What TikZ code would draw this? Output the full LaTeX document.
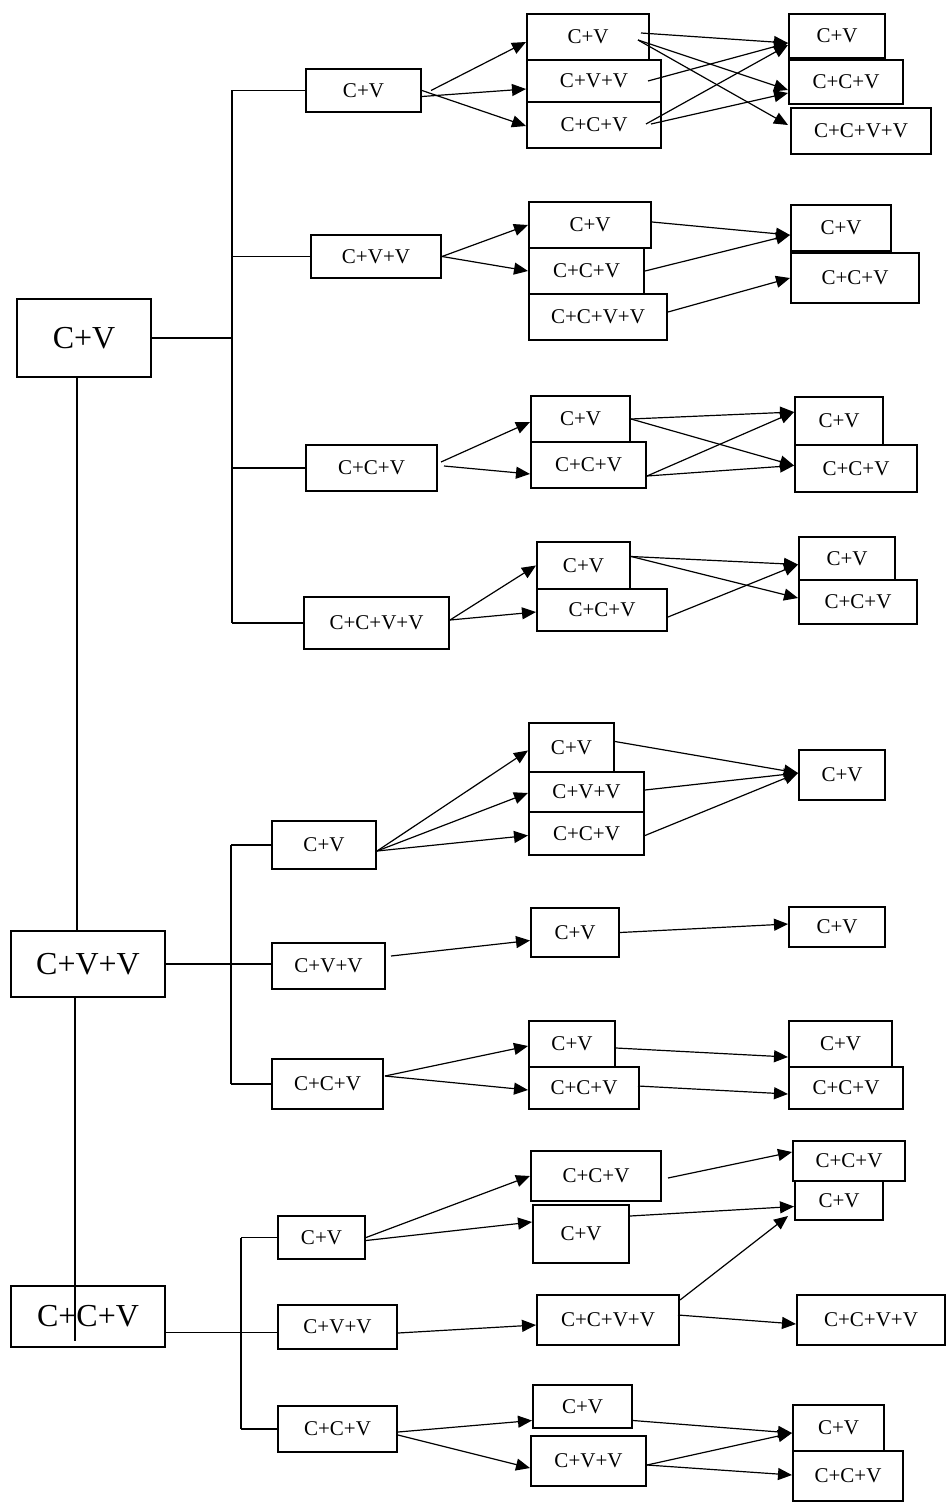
\documentclass[tikz,border=0pt]{standalone}
\usepackage{fontspec}
\setmainfont{Liberation Serif}
\usetikzlibrary{arrows.meta,calc}

\begin{document}
\begin{tikzpicture}[
  x=0.5pt, y=-0.5pt,
  font=\fontsize{10.5}{12}\selectfont,
  bx/.style={draw, line width=1pt, fill=white, inner sep=1pt},
  rt/.style={bx, font=\fontsize{16}{19}\selectfont},
  sz/.style 2 args={minimum width=#1*0.5pt, minimum height=#2*0.5pt},
  arr/.style={-{Triangle[length=7pt,width=6pt]}, line width=0.6pt},
  ln/.style={line width=0.6pt}
]
\useasboundingbox (0,0) rectangle (947,1504);
% roots
\node[rt, sz={134}{78}] (R1) at (84,338) {C+V};
\node[rt, sz={154}{66}] (R2) at (88,964) {C+V+V};
\node[rt, sz={154}{61}] (R3) at (88,1316.5) {C+C+V};
% Branch A: C+V
\node[bx, sz={115}{43}] (A1) at (363.5,90.5) {C+V};
\node[bx, sz={130}{43}] (A2) at (376,256.5) {C+V+V};
\node[bx, sz={131}{46}] (A3) at (371.5,468) {C+C+V};
\node[bx, sz={145}{52}] (A4) at (376.5,623) {C+C+V+V};
\node[bx, sz={122}{46}] (B11) at (588,37) {C+V};
\node[bx, sz={134}{42}] (B12) at (594,81) {C+V+V};
\node[bx, sz={134}{46}] (B13) at (594,125) {C+C+V};
\node[bx, sz={96}{44}] (C11) at (837,36) {C+V};
\node[bx, sz={114}{44}] (C12) at (846,82) {C+C+V};
\node[bx, sz={140}{46}] (C13) at (861,131) {C+C+V+V};
\node[bx, sz={122}{46}] (B21) at (590,225) {C+V};
\node[bx, sz={115}{46}] (B22) at (586.5,271) {C+C+V};
\node[bx, sz={138}{46}] (B23) at (598,317) {C+C+V+V};
\node[bx, sz={100}{46}] (C21) at (841,228) {C+V};
\node[bx, sz={128}{50}] (C22) at (855,278) {C+C+V};
\node[bx, sz={99}{46}] (B31) at (580.5,419) {C+V};
\node[bx, sz={115}{46}] (B32) at (588.5,465) {C+C+V};
\node[bx, sz={88}{48}] (C31) at (839,421) {C+V};
\node[bx, sz={122}{47}] (C32) at (856,468.5) {C+C+V};
\node[bx, sz={93}{47}] (B41) at (583.5,565.5) {C+V};
\node[bx, sz={130}{42}] (B42) at (602,610) {C+C+V};
\node[bx, sz={96}{43}] (C41) at (847,558.5) {C+V};
\node[bx, sz={118}{44}] (C42) at (858,602) {C+C+V};
% Branch B: C+V+V
\node[bx, sz={104}{48}] (D1) at (324,845) {C+V};
\node[bx, sz={113}{46}] (D2) at (328.5,966) {C+V+V};
\node[bx, sz={111}{50}] (D3) at (327.5,1084) {C+C+V};
\node[bx, sz={85}{49}] (E11) at (571.5,747.5) {C+V};
\node[bx, sz={115}{40}] (E12) at (586.5,792) {C+V+V};
\node[bx, sz={115}{43}] (E13) at (586.5,833.5) {C+C+V};
\node[bx, sz={86}{50}] (F1) at (842,775) {C+V};
\node[bx, sz={88}{49}] (E21) at (575,932.5) {C+V};
\node[bx, sz={96}{40}] (F2) at (837,927) {C+V};
\node[bx, sz={86}{46}] (E31) at (572,1044) {C+V};
\node[bx, sz={110}{42}] (E32) at (584,1088) {C+C+V};
\node[bx, sz={103}{46}] (F31) at (840.5,1044) {C+V};
\node[bx, sz={114}{42}] (F32) at (846,1088) {C+C+V};
% Branch C: C+C+V
\node[bx, sz={87}{43}] (G1) at (321.5,1237.5) {C+V};
\node[bx, sz={119}{44}] (G2) at (337.5,1327) {C+V+V};
\node[bx, sz={119}{46}] (G3) at (337.5,1429) {C+C+V};
\node[bx, sz={130}{50}] (H11) at (596,1176) {C+C+V};
\node[bx, sz={96}{58}] (H12) at (581,1234) {C+V};
\node[bx, sz={112}{40}] (I11) at (849,1161) {C+C+V};
\node[bx, sz={88}{39}] (I12) at (839,1200.5) {C+V};
\node[bx, sz={142}{50}] (H21) at (608,1320) {C+C+V+V};
\node[bx, sz={148}{50}] (I21) at (871,1320) {C+C+V+V};
\node[bx, sz={99}{43}] (H31) at (582.5,1406.5) {C+V};
\node[bx, sz={115}{50}] (H32) at (588.5,1461) {C+V+V};
\node[bx, sz={91}{46}] (I31) at (838.5,1428) {C+V};
\node[bx, sz={110}{50}] (I32) at (848,1476) {C+C+V};
% trunk and brackets
\coordinate (t1) at ($(R1.south)+(-7,0)$);
\draw[ln] (t1) -- (t1 |- R2.north);
\coordinate (t2) at ($(R2.south)+(-13,0)$);
\draw[ln] (t2) -- ($(t2 |- R3.south)+(0,-7)$);
\coordinate (ja) at ($(R1.east)+(80,0)$);
\draw[ln] (R1.east) -- (ja);
\draw[ln] (ja |- A1.west) -- (ja |- A4.west);
\draw[ln] (ja |- A1.west) -- (A1.west);
\draw[ln] (ja |- A2.west) -- (A2.west);
\draw[ln] (ja |- A3.west) -- (A3.west);
\draw[ln] (ja |- A4.west) -- (A4.west);
\coordinate (jb) at ($(R2.east)+(65,0)$);
\draw[ln] (R2.east) -- (R2.east -| D2.west);
\draw[ln] (jb |- D1.west) -- (jb |- D3.west);
\draw[ln] (jb |- D1.west) -- (D1.west);
\draw[ln] (jb |- D3.west) -- (D3.west);
\coordinate (jc) at ($(R3.east)+(75,16)$);
\draw[ln] (R3.east |- jc) -- (jc -| G2.west);
\draw[ln] (jc |- G1.west) -- (jc |- G3.west);
\draw[ln] (jc |- G1.west) -- (G1.west);
\draw[ln] (jc |- G3.west) -- (G3.west);
% arrows A
\draw[arr] ($(A1.east)+(9,0)$) -- ($(B11.west)+(0,5)$);
\draw[arr] ($(A1.east)+(0,6)$) -- ($(B12.west)+(0,8)$);
\draw[arr] (A1.east) -- ($(B13.west)+(0,1)$);
\draw[arr] ($(B11.east)+(-9,-4)$) -- ($(C11.west)+(0,7)$);
\draw[arr] ($(B11.east)+(-12,3)$) -- ($(C12.west)+(0,8)$);
\draw[arr] ($(B11.east)+(-12,3)$) -- ($(C13.west)+(-2,-6)$);
\draw[arr] ($(B12.east)+(-14,0)$) -- ($(C11.west)+(0,7)$);
\draw[arr] ($(B13.east)+(-16,-1)$) -- ($(C11.west)+(0,9)$);
\draw[arr] ($(B13.east)+(-11,-1)$) -- ($(C12.west)+(0,11)$);
\draw[arr] (A2.east) -- (B21.west);
\draw[arr] (A2.east) -- (B22.west);
\draw[arr] ($(B21.east)+(0,-3)$) -- ($(C21.west)+(0,7)$);
\draw[arr] (B22.east) -- ($(C21.west)+(0,7)$);
\draw[arr] ($(B23.east)+(0,-5)$) -- (C22.west);
\draw[arr] ($(A3.east)+(3,-6)$) -- ($(B31.west)+(0,3)$);
\draw[arr] ($(A3.east)+(6,-2)$) -- ($(B32.west)+(0,9)$);
\draw[arr] (B31.east) -- ($(C31.west)+(0,-9)$);
\draw[arr] (B31.east) -- ($(C32.west)+(0,-3)$);
\draw[arr] ($(B32.east)+(0,11)$) -- ($(C31.west)+(0,-9)$);
\draw[arr] ($(B32.east)+(0,11)$) -- ($(C32.west)+(0,-3)$);
\draw[arr] ($(A4.east)+(0,-3)$) -- (B41.west);
\draw[arr] ($(A4.east)+(0,-3)$) -- ($(B42.west)+(0,2)$);
\draw[arr] ($(B41.east)+(0,-9)$) -- ($(C41.west)+(0,6)$);
\draw[arr] ($(B41.east)+(0,-9)$) -- ($(C42.west)+(0,-4)$);
\draw[arr] ($(B42.east)+(0,7)$) -- ($(C41.west)+(0,6)$);
% arrows B
\draw[arr] ($(D1.east)+(0,6)$) -- ($(E11.west)+(0,3)$);
\draw[arr] ($(D1.east)+(0,6)$) -- ($(E12.west)+(0,1)$);
\draw[arr] ($(D1.east)+(0,6)$) -- ($(E13.west)+(0,2)$);
\draw[arr] ($(E11.east)+(0,-6)$) -- ($(F1.west)+(0,-2)$);
\draw[arr] ($(E12.east)+(0,-2)$) -- ($(F1.west)+(0,-2)$);
\draw[arr] ($(E13.east)+(0,2)$) -- ($(F1.west)+(0,-2)$);
\draw[arr] ($(D2.east)+(5,-10)$) -- ($(E21.west)+(0,8)$);
\draw[arr] (E21.east) -- ($(F2.west)+(0,-3)$);
\draw[arr] ($(D3.east)+(1,-8)$) -- ($(E31.west)+(0,2)$);
\draw[arr] ($(D3.east)+(1,-8)$) -- ($(E32.west)+(0,2)$);
\draw[arr] ($(E31.east)+(0,4)$) -- ($(F31.west)+(0,13)$);
\draw[arr] ($(E32.east)+(-2,-2)$) -- ($(F32.west)+(0,6)$);
% arrows C
\draw[arr] (G1.east) -- (H11.west);
\draw[arr] ($(G1.east)+(0,3)$) -- ($(H12.west)+(0,-12)$);
\draw[arr] ($(H11.east)+(6,2)$) -- ($(I11.west)+(0,-9)$);
\draw[arr] ($(H12.east)+(0,-18)$) -- ($(I12.west)+(0,6)$);
\draw[arr] ($(G2.east)+(0,6)$) -- ($(H21.west)+(0,5)$);
\draw[arr] ($(H21.east)+(0,-20)$) -- ($(I12.south west)+(-6,-5)$);
\draw[arr] ($(H21.east)+(-2,-5)$) -- ($(I21.west)+(0,4)$);
\draw[arr] ($(G3.east)+(0,3)$) -- ($(H31.west)+(0,14)$);
\draw[arr] ($(G3.east)+(0,6)$) -- ($(H32.west)+(0,7)$);
\draw[arr] ($(H31.east)+(0,14)$) -- ($(I31.west)+(0,5)$);
\draw[arr] ($(H32.east)+(0,4)$) -- ($(I31.west)+(0,5)$);
\draw[arr] ($(H32.east)+(0,4)$) -- ($(I32.west)+(0,-1)$);
\end{tikzpicture}
\end{document}
